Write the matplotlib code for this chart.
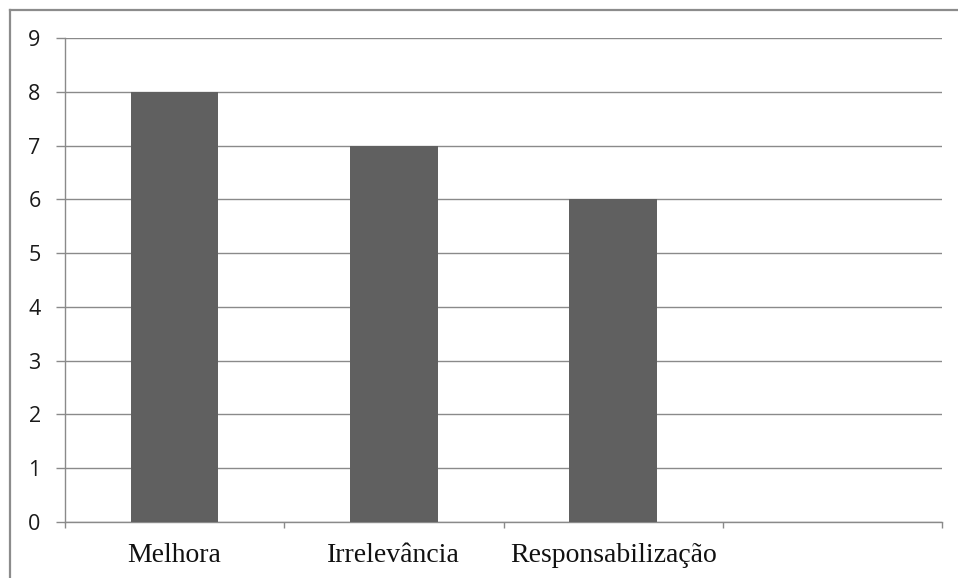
import matplotlib
matplotlib.use("Agg")
import matplotlib.pyplot as plt
from matplotlib.lines import Line2D

categories = ["Melhora", "Irrelevância", "Responsabilização", ""]
values = [8, 7, 6, None]
y_ticks = list(range(0, 10))

bar_color = "#606060"
grid_color = "#8a8a8a"

fig = plt.figure(figsize=(9.58, 5.78), dpi=100)
ax = fig.add_axes([65 / 958, 56 / 578, 877 / 958, 484 / 578])

xs = [i for i, v in enumerate(values) if v is not None]
hs = [v for v in values if v is not None]
ax.bar(xs, hs, width=0.4, color=bar_color, zorder=3)

ax.set_xlim(-0.5, len(categories) - 0.5)
ax.set_ylim(0, 9)
ax.set_yticks(y_ticks)
ax.set_yticklabels([str(t) for t in y_ticks], fontsize=15.5,
                   family=["Open Sans", "DejaVu Sans"], color="#1a1a1a")
ax.yaxis.grid(True, color=grid_color, linewidth=1.0, zorder=0)
ax.tick_params(axis="y", length=6.5, width=1.0, color=grid_color, pad=11)

ax.set_xticks(range(len(categories)))
ax.set_xticklabels(categories, fontsize=20, family=["Liberation Serif", "DejaVu Serif"],
                   color="#111111")
ax.tick_params(axis="x", which="major", length=0, pad=15)
ax.set_xticks([i - 0.5 for i in range(len(categories) + 1)], minor=True)
ax.tick_params(axis="x", which="minor", length=4.5, width=1.0, color=grid_color)

for side in ("top", "right"):
    ax.spines[side].set_visible(False)
for side in ("left", "bottom"):
    ax.spines[side].set_color(grid_color)
    ax.spines[side].set_linewidth(1.0)

# outer chart-area frame
fig.add_artist(Line2D([9.5 / 958, 9.5 / 958], [0, 1 - 9.5 / 578],
                      transform=fig.transFigure, color="#8c8c8c", linewidth=1.6))
fig.add_artist(Line2D([9.5 / 958, 1], [1 - 9.5 / 578, 1 - 9.5 / 578],
                      transform=fig.transFigure, color="#8c8c8c", linewidth=1.6))

fig.savefig("out.png", dpi=100)
